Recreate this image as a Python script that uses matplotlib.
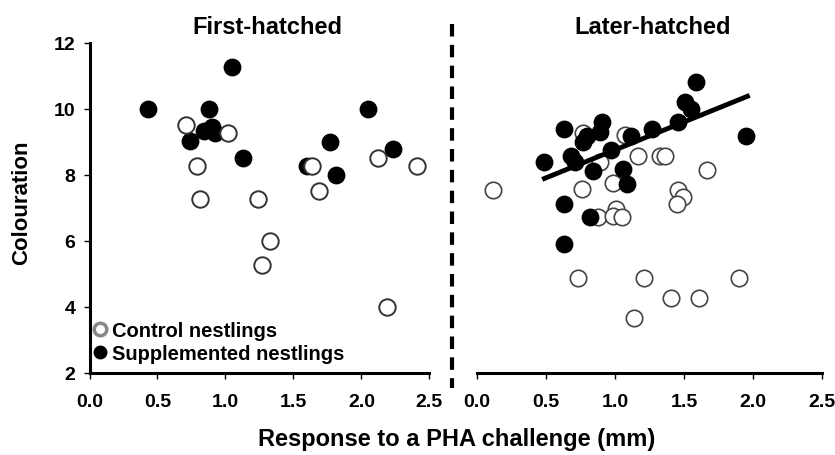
import numpy as np
import matplotlib.pyplot as plt
from matplotlib.lines import Line2D

plt.rcParams['font.family'] = ['Liberation Sans', 'DejaVu Sans']
plt.rcParams['font.weight'] = 'bold'
plt.rcParams['xtick.labelsize'] = 14
plt.rcParams['ytick.labelsize'] = 14

# First-hatched nestlings
first_ctrl_x = [0.71, 1.02, 0.79, 0.81, 1.24, 1.64, 1.69, 2.12, 2.41, 1.33, 1.27, 2.19]
first_ctrl_y = [9.50, 9.27, 8.25, 7.25, 7.25, 8.25, 7.50, 8.50, 8.25, 6.00, 5.25, 4.00]
first_supp_x = [0.43, 1.05, 0.88, 0.84, 0.90, 0.92, 0.74, 1.13, 2.05, 1.77, 1.81, 2.23, 1.60]
first_supp_y = [10.0, 11.25, 10.0, 9.33, 9.45, 9.25, 9.03, 8.50, 10.0, 9.00, 8.00, 8.78, 8.25]

# Later-hatched nestlings
later_ctrl_x = [0.12, 0.77, 1.07, 0.89, 1.17, 1.33, 1.36, 1.67, 0.76, 0.99, 1.46, 1.49,
                1.45, 0.88, 1.01, 0.99, 1.05, 0.73, 1.21, 1.90, 1.41, 1.61, 1.14]
later_ctrl_y = [7.52, 9.25, 9.20, 8.38, 8.57, 8.57, 8.57, 8.15, 7.55, 7.75, 7.52, 7.32,
                7.11, 6.71, 6.96, 6.74, 6.71, 4.87, 4.87, 4.87, 4.26, 4.26, 3.66]
later_supp_x = [1.59, 1.51, 1.55, 1.46, 1.95, 1.27, 1.12, 0.91, 0.89, 0.80, 0.77, 0.63,
                0.49, 0.68, 0.71, 0.84, 0.97, 1.06, 1.09, 0.63, 0.82, 0.63]
later_supp_y = [10.81, 10.21, 9.99, 9.58, 9.16, 9.38, 9.18, 9.59, 9.28, 9.18, 8.98, 9.38,
                8.38, 8.57, 8.38, 8.12, 8.73, 8.17, 7.72, 7.11, 6.71, 5.88]

# fitted line for later-hatched supplemented nestlings
fit_x = [0.49, 1.96]
fit_y = [7.88, 10.37]

xt = np.arange(0, 2.51, 0.5)
yt = [2, 4, 6, 8, 10, 12]

fig = plt.figure(figsize=(8.35, 4.56), dpi=100)
ax1 = fig.add_axes([0.1072, 0.1809, 0.4070, 0.7237])
ax2 = fig.add_axes([0.5710, 0.1809, 0.4134, 0.7237])

ms = 140
for ax in (ax1, ax2):
    ax.set_xlim(0, 2.5)
    ax.set_ylim(2, 12)
    ax.set_xticks(xt)
    ax.set_xticklabels(["%.1f" % t for t in xt], fontsize=14, fontweight='bold')
    for s in ['top', 'right']:
        ax.spines[s].set_visible(False)
    ax.spines['bottom'].set_linewidth(2.2)
    ax.spines['left'].set_linewidth(2.2)
    ax.tick_params(axis='both', direction='out', length=4, width=1, pad=7)
    ax.tick_params(axis='x', pad=11)
    ax.patch.set_alpha(0)

ax1.set_yticks(yt)
ax1.set_yticklabels([str(t) for t in yt], fontsize=14, fontweight='bold')
ax1.tick_params(axis='y', pad=6)
ax2.spines['left'].set_visible(False)
ax2.set_yticks([])

ax1.scatter(first_ctrl_x, first_ctrl_y, s=ms, facecolor='white', edgecolor='#333333', linewidth=1.4, zorder=3)
ax1.scatter(first_supp_x, first_supp_y, s=ms, facecolor='black', edgecolor='black', linewidth=1, zorder=2)

ax2.scatter(later_ctrl_x, later_ctrl_y, s=ms, facecolor='white', edgecolor='#444444', linewidth=1.2, zorder=2)
ax2.scatter(later_supp_x, later_supp_y, s=ms, facecolor='black', edgecolor='black', linewidth=1, zorder=3)
ax2.plot(fit_x, fit_y, color='black', linewidth=3.5, zorder=4)

ax1.set_title("First-hatched", fontsize=17, fontweight='bold', pad=7, x=0.524)
ax2.set_title("Later-hatched", fontsize=17, fontweight='bold', pad=7, x=0.51)
fig.text(0.026, 0.556, "Colouration", rotation=90, ha='center', va='center',
         fontsize=16, fontweight='bold')
fig.text(0.547, 0.036, "Response to a PHA challenge (mm)", ha='center', va='center',
         fontsize=17, fontweight='bold')

handles = [
    Line2D([], [], marker='o', linestyle='none', markersize=9, markerfacecolor='white',
           markeredgecolor='#888888', markeredgewidth=2.5, label='Control nestlings'),
    Line2D([], [], marker='o', linestyle='none', markersize=9, markerfacecolor='black',
           markeredgecolor='black', label='Supplemented nestlings'),
]
ax1.legend(handles=handles, loc='lower left', bbox_to_anchor=(-0.025, 0.0), frameon=False,
           handletextpad=0.1, borderaxespad=0.05, handlelength=1.0, labelspacing=0.2,
           prop={'weight': 'bold', 'size': 14.5})

# dashed divider between panels
fig.add_artist(Line2D([0.541, 0.541], [0.945, 0.148], transform=fig.transFigure,
                      color='black', linewidth=3, linestyle=(0, (3, 2))))

fig.savefig("out.png", dpi=100)
